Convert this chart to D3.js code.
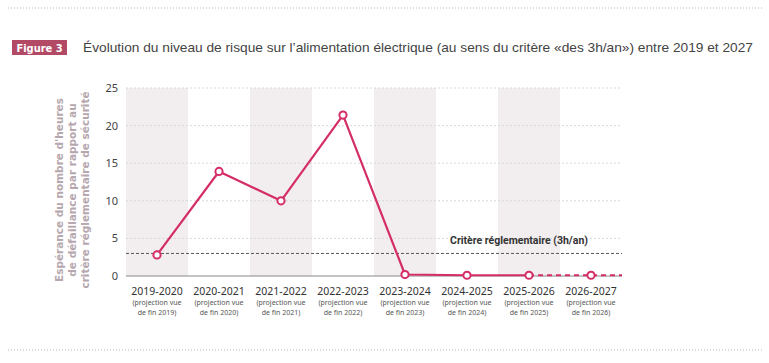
<!DOCTYPE html>
<html>
<head>
<meta charset="utf-8">
<script src="https://cdn.jsdelivr.net/npm/d3@7"></script>
<style>
  body { margin: 0; background: #fff; }
  svg { display: block; }
</style>
</head>
<body>
<div id="chart"></div>
<script>
document.addEventListener("DOMContentLoaded", function () {
  const categories = ['2019-2020', '2020-2021', '2021-2022', '2022-2023',
    '2023-2024', '2024-2025', '2025-2026', '2026-2027'];
  const subLabels = ['de fin 2019)', 'de fin 2020)', 'de fin 2021)', 'de fin 2022)',
    'de fin 2023)', 'de fin 2024)', 'de fin 2025)', 'de fin 2026)'];
  const values = [2.8, 13.9, 10.0, 21.4, 0.2, 0.1, 0.1, 0.1];
  const yTicks = [0, 5, 10, 15, 20, 25];
  const critere = 3;
  const yTitle = ["Espérance du nombre d'heures", 'de défaillance par rapport au', 'critère réglementaire de sécurité'];

  const width = 769;
  const height = 363;
  const left = 126;
  const right = 622;
  const top = 88;
  const bottom = 276;
  const lineColor = '#d42d68';

  const svg = d3.select('#chart').append('svg')
    .attr('width', width)
    .attr('height', height);

  // Dotted separators top and bottom
  [8, 350].forEach(yy => {
    svg.append('line')
      .attr('x1', 8).attr('x2', 762)
      .attr('y1', yy).attr('y2', yy)
      .attr('stroke', '#b8b8b8')
      .attr('stroke-width', 1)
      .attr('stroke-dasharray', '1,2');
  });

  // Title badge
  svg.append('rect')
    .attr('x', 12).attr('y', 40)
    .attr('width', 55).attr('height', 15)
    .attr('fill', '#b24a66');
  svg.append('text')
    .attr('x', 39.5).attr('y', 51.5)
    .attr('text-anchor', 'middle')
    .attr('font-family', 'DejaVu Sans Condensed, DejaVu Sans, sans-serif')
    .attr('font-weight', 'bold')
    .attr('font-size', '11px')
    .attr('fill', '#fff')
    .text('Figure 3');
  svg.append('text')
    .attr('x', 83).attr('y', 52)
    .attr('font-family', 'Liberation Sans Narrow, Liberation Sans, sans-serif')
    .attr('font-size', '13px')
    .attr('fill', '#444')
    .attr('textLength', 670)
    .attr('lengthAdjust', 'spacingAndGlyphs')
    .text('Évolution du niveau de risque sur l’alimentation électrique (au sens du critère «des 3h/an») entre 2019 et 2027');

  const x = d3.scaleBand().domain(categories).range([left, right]);
  const y = d3.scaleLinear().domain([0, 25]).range([bottom, top]);

  // Alternating shaded bands
  svg.append('g').selectAll('rect')
    .data(categories.filter((d, i) => i % 2 === 0))
    .join('rect')
    .attr('x', d => x(d))
    .attr('y', y(25))
    .attr('width', x.bandwidth())
    .attr('height', y(0) - y(25))
    .attr('fill', '#f2edef');

  // Gridlines
  svg.append('g').selectAll('line')
    .data(yTicks.filter(t => t > 0))
    .join('line')
    .attr('x1', left).attr('x2', right)
    .attr('y1', d => y(d)).attr('y2', d => y(d))
    .attr('stroke', '#d8d8d8')
    .attr('stroke-width', 1)
    .attr('stroke-dasharray', '2,2');

  // Y axis labels
  const yAxis = svg.append('g')
    .attr('transform', `translate(${left - 8},0)`)
    .call(d3.axisLeft(y).tickValues(yTicks).tickSize(0).tickPadding(0));
  yAxis.select('.domain').remove();
  yAxis.selectAll('text')
    .attr('font-family', 'Noto Sans, sans-serif')
    .attr('font-size', '11px')
    .attr('fill', '#444');

  // Base line
  svg.append('line')
    .attr('x1', left).attr('x2', right)
    .attr('y1', y(0)).attr('y2', y(0))
    .attr('stroke', '#888')
    .attr('stroke-width', 1);

  // Y axis title
  const yt = svg.append('text')
    .attr('transform', `translate(72,190) rotate(-90)`)
    .attr('text-anchor', 'middle')
    .attr('font-family', 'DejaVu Sans, sans-serif')
    .attr('font-weight', 'bold')
    .attr('font-size', '10.5px')
    .attr('fill', '#b6a7ae');
  yTitle.forEach((t, i) => {
    yt.append('tspan')
      .attr('x', 0)
      .attr('y', (i - 1) * 13 + 4)
      .text(t);
  });

  // X labels
  const xl = svg.append('g');
  categories.forEach((c, i) => {
    const cx = x(c) + x.bandwidth() / 2;
    xl.append('text')
      .attr('x', cx).attr('y', 295)
      .attr('text-anchor', 'middle')
      .attr('font-family', 'Noto Sans, sans-serif')
      .attr('font-size', '10.5px')
      .attr('fill', '#333')
      .text(c);
    xl.append('text')
      .attr('x', cx).attr('y', 305)
      .attr('text-anchor', 'middle')
      .attr('font-family', 'Noto Sans, sans-serif')
      .attr('font-size', '7px')
      .attr('fill', '#555')
      .text('(projection vue');
    xl.append('text')
      .attr('x', cx).attr('y', 315)
      .attr('text-anchor', 'middle')
      .attr('font-family', 'Noto Sans, sans-serif')
      .attr('font-size', '7px')
      .attr('fill', '#555')
      .text(subLabels[i]);
  });

  // Criterion line
  svg.append('line')
    .attr('x1', left).attr('x2', right)
    .attr('y1', y(critere)).attr('y2', y(critere))
    .attr('stroke', '#555')
    .attr('stroke-width', 1)
    .attr('stroke-dasharray', '3,2');
  svg.append('text')
    .attr('x', 519).attr('y', y(critere) - 9)
    .attr('text-anchor', 'middle')
    .attr('font-family', 'Roboto, sans-serif')
    .attr('font-weight', 'bold')
    .attr('font-size', '10.5px')
    .attr('fill', '#333')
    .text('Critère réglementaire (3h/an)');

  // Data line: solid part, then dashed projection
  const pts = categories.map((c, i) => [x(c) + x.bandwidth() / 2, y(values[i])]);
  const line = d3.line();
  svg.append('path')
    .attr('d', line(pts.slice(0, 7)))
    .attr('fill', 'none')
    .attr('stroke', lineColor)
    .attr('stroke-width', 2.2)
    .attr('stroke-linejoin', 'round');
  svg.append('path')
    .attr('d', line([pts[6], pts[7], [right, pts[7][1]]]))
    .attr('fill', 'none')
    .attr('stroke', lineColor)
    .attr('stroke-width', 2.2)
    .attr('stroke-dasharray', '5,4');

  svg.append('g').selectAll('circle')
    .data(pts)
    .join('circle')
    .attr('cx', d => d[0])
    .attr('cy', d => d[1])
    .attr('r', 3.6)
    .attr('fill', '#fff')
    .attr('stroke', lineColor)
    .attr('stroke-width', 2);
});
</script>
</body>
</html>
